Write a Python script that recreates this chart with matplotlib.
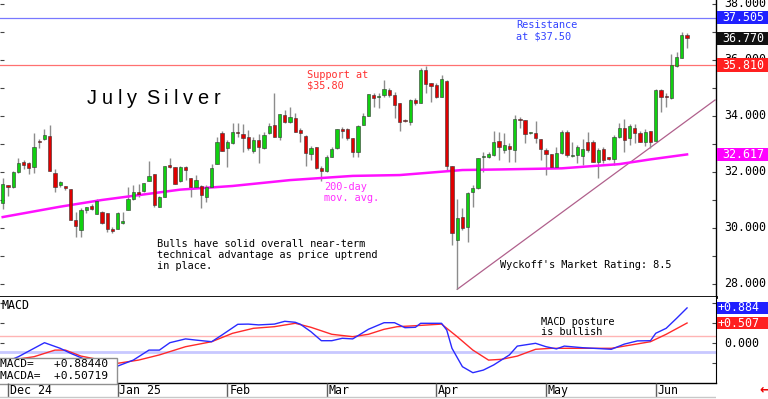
import numpy as np
import matplotlib
matplotlib.use("Agg")
import matplotlib.pyplot as plt
from matplotlib.patches import Rectangle
from matplotlib.transforms import blended_transform_factory

# daily OHLC, July silver (late Nov 2024 .. early Jun 2025)
opens = [30.89, 31.53, 31.46, 31.99, 32.35, 32.31, 32.16, 33.10, 33.17, 33.27,
         31.96, 31.53, 31.49, 31.38, 30.27, 29.92, 30.63, 30.79, 30.50, 30.56,
         30.54, 29.96, 29.95, 30.16, 30.63, 31.01, 31.27, 31.32, 31.67, 31.91,
         30.75, 31.09, 32.24, 32.16, 31.68, 32.16, 31.76, 31.46, 31.49, 31.11,
         31.46, 32.27, 33.37, 32.83, 33.01, 33.39, 33.34, 33.23, 32.75, 33.13,
         32.83, 33.37, 33.67, 33.23, 34.02, 33.76, 33.93, 33.49, 33.27, 32.63,
         32.87, 32.12, 32.03, 32.54, 32.83, 33.52, 33.51, 33.19, 32.71, 33.67,
         33.99, 34.74, 34.66, 34.74, 34.92, 34.74, 34.44, 33.85, 33.79, 34.56,
         34.46, 35.63, 35.16, 35.10, 34.68, 35.25, 32.20, 29.56, 30.39, 30.03,
         31.29, 31.41, 32.51, 32.54, 32.60, 33.10, 32.77, 32.92, 32.77, 33.87,
         33.85, 33.37, 33.39, 33.16, 32.77, 32.62, 32.18, 32.68, 33.43, 32.55,
         32.60, 32.56, 33.07, 33.07, 32.36, 32.80, 32.51, 32.44, 33.23, 33.55,
         33.19, 33.55, 33.37, 33.07, 33.45, 33.11, 34.92, 34.68, 34.62, 35.79,
         36.05, 36.88]
highs = [31.78, 31.53, 32.03, 32.49, 32.42, 32.35, 33.38, 33.17, 33.52, 33.67,
         32.10, 31.68, 31.49, 31.39, 30.57, 30.70, 30.74, 30.85, 31.02, 30.60,
         30.54, 30.02, 30.55, 30.56, 31.45, 31.53, 31.56, 31.61, 32.38, 31.91,
         31.13, 32.21, 32.49, 32.17, 32.20, 32.20, 31.77, 31.88, 31.52, 31.53,
         32.27, 33.23, 33.46, 33.13, 33.75, 33.75, 33.70, 33.49, 33.24, 33.35,
         33.43, 33.73, 34.80, 34.07, 34.20, 34.32, 34.09, 33.55, 33.31, 32.91,
         32.87, 32.20, 32.60, 32.89, 33.53, 33.61, 33.55, 33.20, 33.65, 34.09,
         34.78, 34.80, 34.80, 35.27, 34.98, 34.86, 34.45, 33.88, 34.59, 34.62,
         35.69, 35.77, 35.18, 35.16, 35.45, 35.26, 32.21, 31.02, 30.69, 31.29,
         31.53, 32.49, 32.71, 32.71, 33.46, 33.43, 33.37, 33.01, 34.02, 33.96,
         33.86, 33.42, 33.82, 33.17, 32.83, 32.63, 32.87, 33.49, 33.49, 33.07,
         32.95, 33.16, 33.43, 33.13, 32.83, 32.88, 32.52, 33.31, 33.75, 33.87,
         33.70, 33.70, 33.45, 33.51, 33.46, 34.94, 34.94, 34.80, 36.20, 36.29,
         37.00, 36.96]
lows = [30.67, 31.13, 31.43, 31.97, 32.10, 31.92, 31.96, 32.85, 33.13, 32.03,
        31.29, 31.46, 31.35, 30.26, 29.68, 29.68, 30.52, 30.63, 30.50, 30.13,
        29.86, 29.82, 29.94, 30.15, 30.62, 31.00, 31.10, 31.29, 31.66, 30.75,
        30.74, 31.08, 32.15, 31.55, 31.63, 31.70, 31.10, 31.42, 30.69, 30.93,
        31.45, 32.26, 32.74, 32.18, 33.00, 33.25, 32.71, 32.77, 32.67, 32.30,
        32.82, 33.36, 33.23, 33.13, 33.73, 33.73, 33.42, 33.07, 32.20, 32.42,
        32.10, 31.68, 32.00, 32.51, 32.82, 33.19, 33.13, 32.54, 32.51, 33.66,
        33.98, 34.32, 34.26, 34.68, 34.66, 33.92, 33.46, 33.79, 33.67, 34.38,
        34.44, 34.80, 34.50, 34.62, 34.67, 32.06, 29.38, 27.80, 29.92, 29.50,
        30.75, 31.40, 32.00, 32.50, 32.56, 32.42, 32.68, 32.36, 32.36, 33.55,
        33.01, 33.35, 33.04, 32.42, 31.88, 32.12, 32.15, 32.65, 32.54, 32.52,
        32.30, 32.24, 32.71, 32.35, 31.76, 32.30, 32.43, 32.24, 33.22, 32.71,
        32.95, 33.04, 33.06, 32.92, 32.83, 33.10, 34.14, 34.32, 34.59, 35.75,
        36.05, 36.41]
closes = [31.56, 31.45, 32.00, 32.31, 32.24, 32.13, 32.89, 33.06, 33.31, 32.04,
          31.46, 31.64, 31.41, 30.27, 30.07, 30.63, 30.73, 30.67, 30.96, 30.16,
          29.95, 29.88, 30.54, 30.25, 31.02, 31.26, 31.20, 31.61, 31.85, 30.81,
          31.09, 32.20, 32.16, 31.56, 32.16, 32.06, 31.46, 31.70, 31.17, 31.46,
          32.12, 33.07, 32.75, 33.05, 33.43, 33.37, 33.19, 32.83, 33.13, 32.87,
          33.31, 33.64, 33.25, 34.06, 33.79, 33.94, 33.43, 33.37, 32.68, 32.83,
          32.12, 32.03, 32.54, 32.80, 33.52, 33.45, 33.19, 32.71, 33.64, 33.99,
          34.77, 34.64, 34.71, 34.95, 34.74, 34.38, 33.79, 33.81, 34.56, 34.46,
          35.63, 35.13, 35.06, 34.68, 35.30, 32.20, 29.80, 30.34, 29.98, 31.23,
          31.41, 32.48, 32.56, 32.62, 33.07, 32.87, 32.95, 32.80, 33.87, 33.85,
          33.35, 33.39, 33.19, 32.80, 32.62, 32.16, 32.66, 33.43, 32.60, 32.57,
          32.87, 32.80, 32.79, 32.36, 32.77, 32.42, 32.45, 33.25, 33.55, 33.13,
          33.63, 33.39, 33.07, 33.43, 33.07, 34.92, 34.66, 34.66, 35.81, 36.11,
          36.88, 36.77]

# 200-day moving average (bar, value)
ma_bar = [0, 11, 19, 34, 44, 55, 67, 76, 84, 88, 95, 107, 118, 124, 131]
ma_val = [30.38, 30.75, 30.99, 31.36, 31.49, 31.70, 31.85, 31.88, 32.00, 32.06,
          32.08, 32.12, 32.27, 32.44, 32.617]

# uptrend line from the April low
trend_bar = [87, 136.35]
trend_val = [27.80, 34.56]

resistance = 37.505
support = 35.81
last_price = 36.77

# MACD and its average (bar, value)
macd_bar = [0, 3, 8, 11, 13, 17, 22, 25, 28, 30, 32, 35, 37, 40, 42, 45, 47, 49,
            52, 54, 56, 57, 59, 61, 63, 65, 67, 70, 73, 75, 77, 79, 80, 84, 85,
            86, 88, 90, 92, 94, 97, 98.5, 102, 104, 106, 107.5, 111, 116.5, 119,
            121.5, 124, 125, 127, 129, 131]
macd_val = [-0.50, -0.335, 0.015, -0.125, -0.25, -0.47, -0.57, -0.42, -0.17,
            -0.17, 0.015, 0.11, 0.08, 0.04, 0.21, 0.475, 0.48, 0.46, 0.48, 0.55,
            0.525, 0.475, 0.29, 0.065, 0.065, 0.125, 0.11, 0.35, 0.515, 0.515,
            0.39, 0.40, 0.50, 0.50, 0.33, -0.125, -0.585, -0.735, -0.67, -0.54,
            -0.29, -0.07, 0.0, -0.085, -0.14, -0.07, -0.11, -0.15, -0.02, 0.06,
            0.065, 0.25, 0.375, 0.625, 0.88440]
macda_bar = [0, 6, 10, 12, 15, 22, 26, 30, 35, 40, 44, 48, 52, 56, 59, 63, 67,
             70, 73, 75.5, 79, 84, 87, 90, 93, 95.5, 98.5, 102, 105, 111, 116.5,
             119, 124, 127, 131]
macda_val = [-0.45, -0.335, -0.17, -0.17, -0.32, -0.50, -0.42, -0.29, -0.085,
             0.04, 0.25, 0.375, 0.415, 0.50, 0.40, 0.225, 0.165, 0.225, 0.35,
             0.415, 0.44, 0.48, 0.165, -0.17, -0.42, -0.40, -0.32, -0.15, -0.125,
             -0.125, -0.125, -0.07, 0.04, 0.225, 0.50719]
macd_upper = 0.18
macd_lower = -0.225

month_bar = [1, 22, 43, 62, 83, 104, 125]
month_lbl = ["Dec 24", "Jan 25", "Feb", "Mar", "Apr", "May", "Jun"]

price_ticks = [38, 36, 34, 32, 30, 28]

W, H = 768, 399
MONO = "DejaVu Sans Mono"


def fx(px):
    return px / W


def fy(py):
    return 1 - py / H


fig = plt.figure(figsize=(W / 100, H / 100), dpi=100)
ax = fig.add_axes([0, fy(296.5), 716 / W, 296.5 / H])
axm = fig.add_axes([0, fy(382.7), 716 / W, (382.7 - 296.5) / H])
axd = fig.add_axes([0, 0, 716 / W, (H - 382.7) / H])

xlim = (-0.517, 136.54)

# ---- price panel
o = np.array(opens)
h = np.array(highs)
l = np.array(lows)
c = np.array(closes)
x = np.arange(len(c))
up = c >= o
ax.vlines(x, l, h, color="#8c8c8c", lw=1, zorder=2)
ax.plot(ma_bar, ma_val, color="#ff10ff", lw=1.8, zorder=2.5)
ax.bar(x, np.maximum(np.abs(c - o), 0.03), bottom=np.minimum(o, c), width=0.62,
       color=np.where(up, "#10d010", "#e00000"), edgecolor="#333333",
       linewidth=0.4, zorder=3)
ax.plot(trend_bar, trend_val, color="#b0608c", lw=0.9, zorder=1.5)
ax.axhline(resistance, color="#7878ff", lw=0.9, zorder=1)
ax.axhline(support, color="#ff7070", lw=0.9, zorder=1)

ax.set_xlim(xlim)
ax.set_ylim(27.543, 38.132)
ax.set_yticks(np.arange(28, 39, 1))
ax.tick_params(axis="y", direction="in", length=3, left=True, right=True,
               labelleft=False, labelright=False, color="#444444")
ax.tick_params(axis="x", bottom=False, labelbottom=False)
for s in ["left", "top"]:
    ax.spines[s].set_visible(False)
ax.spines["right"].set_linewidth(1)
ax.spines["bottom"].set_linewidth(2)

ytr = ax.get_yaxis_transform()
for v in price_ticks:
    ax.text(1 + 8 / 716, v, f"{v:.3f}", transform=ytr, va="center", ha="left",
            family=MONO, fontsize=8.4, clip_on=False)

ftr = blended_transform_factory(fig.transFigure, ax.transData)
for v, col in [(resistance, "#2020ff"), (last_price, "#111111"),
               (support, "#ff2020"), (ma_val[-1], "#ff00ff")]:
    ax.add_patch(Rectangle((fx(717), v - 0.235), 51 / W, 0.47, transform=ftr,
                           fc=col, ec="none", clip_on=False, zorder=6))
    ax.text(fx(722.5), v, f"{v:.3f}", transform=ftr, va="center", ha="left",
            family=MONO, fontsize=8.4, color="white", clip_on=False, zorder=7)

# ---- MACD panel
axm.axhline(macd_upper, color="#ffb4b4", lw=1)
axm.axhline(macd_lower, color="#c8c8ff", lw=2)
axm.plot(macda_bar, macda_val, color="#ff2a2a", lw=1)
axm.plot(macd_bar, macd_val, color="#2a2aff", lw=1)
axm.set_xlim(xlim)
axm.set_ylim(-0.985, 1.17)
axm.set_yticks([-0.5, 0, 0.5, 1.0])
axm.tick_params(axis="y", direction="in", length=3, left=True, right=True,
                labelleft=False, labelright=False, color="#444444")
axm.tick_params(axis="x", bottom=False, labelbottom=False)
for s in ["left", "top"]:
    axm.spines[s].set_visible(False)
axm.spines["bottom"].set_linewidth(1)

mtr = blended_transform_factory(fig.transFigure, axm.transData)
for v, col in [(macd_val[-1], "#2020ff"), (macda_val[-1], "#ff2020")]:
    axm.add_patch(Rectangle((fx(716.5), v - 0.15), 52 / W, 0.30, transform=mtr,
                            fc=col, ec="none", clip_on=False, zorder=6))
    axm.text(fx(717), v, f"{v:+.3f}", transform=mtr, va="center", ha="left",
             family=MONO, fontsize=8.4, color="white", clip_on=False, zorder=7)
axm.text(fx(724), 0, "0.000", transform=mtr, va="center", ha="left",
         family=MONO, fontsize=8.4, clip_on=False)

axm.add_patch(Rectangle((-0.01, -0.02), 117 / 716 + 0.01, 0.31,
                        transform=axm.transAxes, fc="white", ec="#909090",
                        lw=1, clip_on=False, zorder=8))
fig.text(fx(0), fy(367), f"MACD=   {macd_val[-1]:+.5f}", family=MONO,
         fontsize=8.1, va="baseline", zorder=9)
fig.text(fx(0), fy(379), f"MACDA=  {macda_val[-1]:+.5f}", family=MONO,
         fontsize=8.1, va="baseline", zorder=9)

# ---- date strip
axd.set_xlim(xlim)
axd.set_ylim(0, 1)
axd.axis("off")
axd.vlines(month_bar, 0.1, 1.0, color="#606060", lw=1)
axd.axhline(0.12, color="#c8c8c8", lw=1)
for b, s in zip(month_bar, month_lbl):
    axd.text(b + 0.35, 0.3, s, family=MONO, fontsize=8.4, va="baseline",
             ha="left")
fig.text(fx(759), fy(390), "\u2190", color="#ee0000", fontweight="bold",
         fontsize=9, va="center", ha="left")

# ---- annotations
notes = [
    ("Support at", 307.3, 77.5, "#ff3030"),
    ("$35.80", 307.3, 88.0, "#ff3030"),
    ("Resistance", 516, 28.5, "#3344ff"),
    ("at $37.50", 516, 39.5, "#3344ff"),
    ("200-day", 324, 190, "#ff30ff"),
    ("mov. avg.", 324, 200.5, "#ff30ff"),
    ("Bulls have solid overall near-term", 157, 246.7, "black"),
    ("technical advantage as price uptrend", 157, 258, "black"),
    ("in place.", 157, 269.3, "black"),
    ("Wyckoff's Market Rating: 8.5", 500, 268.5, "black"),
    ("MACD posture", 541.3, 325, "black"),
    ("is bullish", 541.3, 335, "black"),
]
for s, px, py, col in notes:
    fig.text(fx(px), fy(py), s, family=MONO, fontsize=7.4, color=col,
             va="baseline", ha="left")
fig.text(fx(1.7), fy(309), "MACD", family=MONO, fontsize=8.4, va="baseline")

# title with wide letter spacing
renderer = fig.canvas.get_renderer()
px = 86.7
for ch in "July Silver":
    if ch == " ":
        px += 4.5
        continue
    t = fig.text(fx(px), fy(104.3), ch, family="Liberation Sans", fontsize=14.4,
                 va="baseline", ha="left")
    px += t.get_window_extent(renderer).width + 4.8

fig.savefig("out.png", dpi=100)
